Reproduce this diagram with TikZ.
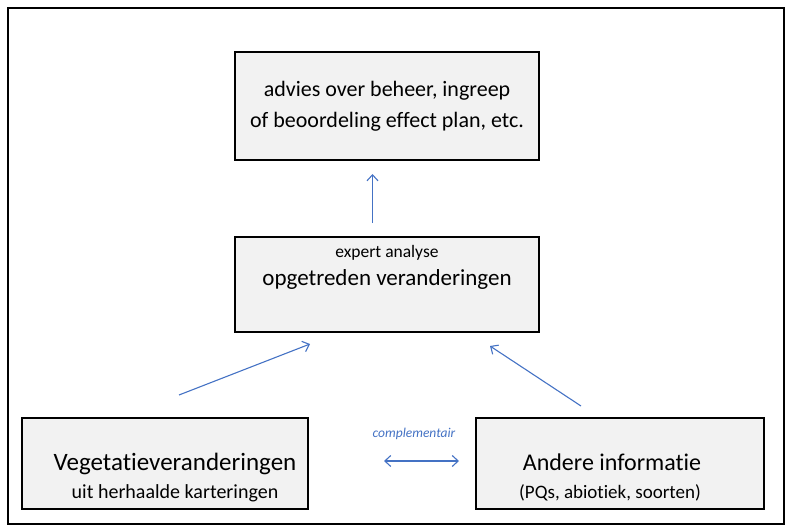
\documentclass[tikz,border=0pt]{standalone}
\usepackage{fontspec}
\setmainfont{Carlito}[Ligatures=NoCommon]
\usepackage{xcolor}
\usetikzlibrary{calc,arrows.meta,positioning}
\definecolor{boxGray}{RGB}{242,242,242}
\definecolor{arrowBlue}{RGB}{68,114,196}
\tikzset{
  stapbox/.style={draw=black,fill=boxGray,line width=1.5pt,inner sep=0pt},
  pijl/.style={arrowBlue,line width=1.1pt,-{Straight Barb[length=6pt,width=11pt]}},
  tekst/.style={inner sep=0pt,align=center,text=black}
}
\begin{document}
\begin{tikzpicture}[x=1pt,y=-1pt,line cap=butt,line join=miter]
  \useasboundingbox (0,0) rectangle (792,532);
  \draw[black,line width=1.5pt] (8,8) rectangle (784,524);
  % boxes
  \node[stapbox,minimum width=304,minimum height=108] (advies) at (387,106) {};
  \node[stapbox,minimum width=304,minimum height=95] (analyse) at (387,284.5) {};
  \node[stapbox,minimum width=286,minimum height=91] (vegetatie) at (165,463.5) {};
  \node[stapbox,minimum width=288,minimum height=91] (andere) at (620,463.5) {};
  % texts
  \node[tekst,font=\fontsize{22}{31}\selectfont] (adviesTxt) at (advies.center)
    {advies over beheer, ingreep\\of beoordeling effect plan, etc.};
  \node[tekst,font=\fontsize{17.5}{18}\selectfont,anchor=base] (expertTxt) at (387,257) {expert analyse};
  \node[tekst,font=\fontsize{23}{24}\selectfont,anchor=base] (opgetredenTxt) at (387,285) {opgetreden veranderingen};
  \node[tekst,font=\fontsize{25}{26}\selectfont,anchor=base] (vegetatieTxt) at (175,470) {Vegetatieveranderingen};
  \node[tekst,font=\fontsize{20}{20}\selectfont,anchor=base] (karteringTxt) at (175,498) {uit herhaalde karteringen};
  \node[tekst,font=\fontsize{24}{26}\selectfont,anchor=base] (andereTxt) at (612,470) {Andere informatie};
  \node[tekst,font=\fontsize{19}{20}\selectfont,anchor=base] (pqTxt) at (610,498) {(PQs, abiotiek, soorten)};
  \node[tekst,text=arrowBlue,font=\fontsize{13.5}{15}\selectfont\itshape,anchor=base] (compl) at (414,437) {complementair};
  % arrow ends
  \coordinate (v1) at (372.5,223);
  \coordinate (v2) at (372.5,174);
  \coordinate (l1) at (179,395);
  \coordinate (l2) at (310,344);
  \coordinate (r1) at (581,406);
  \coordinate (r2) at (490,346);
  \coordinate (c1) at (384,461);
  \coordinate (c2) at (459,461);
  \draw[pijl] (v1) -- (v2);
  \draw[pijl] (l1) -- (l2);
  \draw[pijl] (r1) -- (r2);
  \draw[pijl,{Straight Barb[length=6pt,width=11pt]}-{Straight Barb[length=6pt,width=11pt]}] (c1) -- (c2);
\end{tikzpicture}
\end{document}
